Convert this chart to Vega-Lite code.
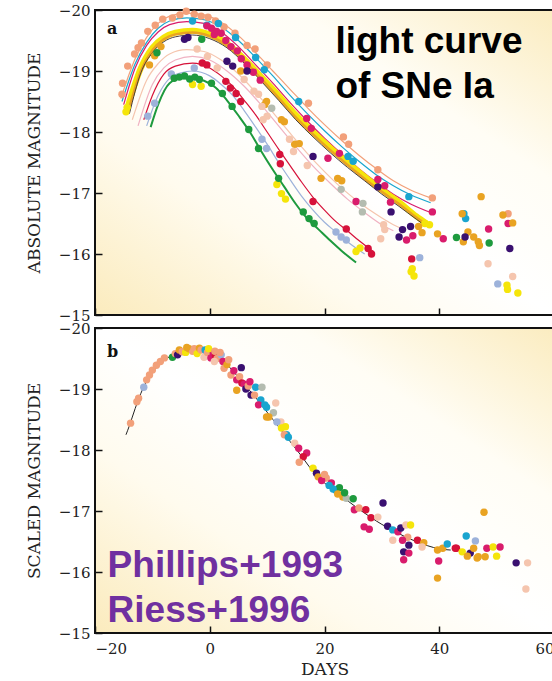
{
  "$schema": "https://vega.github.io/schema/vega-lite/v6.json",
  "padding": {"left": 24, "top": 2, "right": 0, "bottom": 0},
  "spacing": -4,
  "background": "white",
  "config": {
    "view": {
      "stroke": "#111111",
      "strokeWidth": 2,
      "fill": {
        "gradient": "linear",
        "x1": 0, "y1": 1, "x2": 1, "y2": 0,
        "stops": [
          {"offset": 0, "color": "#fbebbd"},
          {"offset": 0.3, "color": "#fffbee"},
          {"offset": 0.5, "color": "#ffffff"},
          {"offset": 0.72, "color": "#fffdf5"},
          {"offset": 1, "color": "#fbecc0"}
        ]
      }
    },
    "axis": {
      "labelFont": "DejaVu Serif",
      "labelFontSize": 15,
      "labelColor": "#222222",
      "titleFont": "DejaVu Serif",
      "titleFontSize": 17,
      "titleFontWeight": "normal",
      "titleColor": "#222222",
      "titlePadding": 15,
      "domain": false,
      "grid": false,
      "tickColor": "#111111",
      "tickWidth": 1.5,
      "tickSize": -7,
      "labelPadding": 12
    }
  },
  "datasets": {
    "topCurves": [
      {"sn":"A","d":-15.5,"m":-18.55},{"sn":"A","d":-13,"m":-19.2},{"sn":"A","d":-11,"m":-19.55},{"sn":"A","d":-9,"m":-19.78},{"sn":"A","d":-7,"m":-19.9},{"sn":"A","d":-4,"m":-19.95},{"sn":"A","d":-1,"m":-19.92},{"sn":"A","d":2,"m":-19.8},{"sn":"A","d":5,"m":-19.58},{"sn":"A","d":8,"m":-19.3},{"sn":"A","d":11,"m":-19.0},{"sn":"A","d":14,"m":-18.7},{"sn":"A","d":17,"m":-18.4},{"sn":"A","d":20,"m":-18.12},{"sn":"A","d":23,"m":-17.86},{"sn":"A","d":26,"m":-17.62},{"sn":"A","d":29,"m":-17.4},{"sn":"A","d":32,"m":-17.2},{"sn":"A","d":35,"m":-17.05},{"sn":"A","d":38.5,"m":-16.92},
      {"sn":"B","d":-15.3,"m":-18.5},{"sn":"B","d":-13,"m":-19.12},{"sn":"B","d":-11,"m":-19.47},{"sn":"B","d":-9,"m":-19.7},{"sn":"B","d":-7,"m":-19.82},{"sn":"B","d":-4,"m":-19.87},{"sn":"B","d":-1,"m":-19.84},{"sn":"B","d":2,"m":-19.72},{"sn":"B","d":5,"m":-19.5},{"sn":"B","d":8,"m":-19.22},{"sn":"B","d":11,"m":-18.92},{"sn":"B","d":14,"m":-18.6},{"sn":"B","d":17,"m":-18.3},{"sn":"B","d":20,"m":-18.02},{"sn":"B","d":23,"m":-17.76},{"sn":"B","d":26,"m":-17.52},{"sn":"B","d":29,"m":-17.3},{"sn":"B","d":32,"m":-17.12},{"sn":"B","d":35,"m":-16.97},{"sn":"B","d":38.5,"m":-16.84},
      {"sn":"C","d":-15,"m":-18.45},{"sn":"C","d":-13,"m":-19.05},{"sn":"C","d":-11,"m":-19.42},{"sn":"C","d":-9,"m":-19.64},{"sn":"C","d":-7,"m":-19.76},{"sn":"C","d":-4,"m":-19.81},{"sn":"C","d":-1,"m":-19.78},{"sn":"C","d":2,"m":-19.64},{"sn":"C","d":5,"m":-19.4},{"sn":"C","d":8,"m":-19.1},{"sn":"C","d":11,"m":-18.8},{"sn":"C","d":14,"m":-18.48},{"sn":"C","d":17,"m":-18.18},{"sn":"C","d":20,"m":-17.9},{"sn":"C","d":23,"m":-17.64},{"sn":"C","d":26,"m":-17.4},{"sn":"C","d":29,"m":-17.18},{"sn":"C","d":32,"m":-16.98},{"sn":"C","d":35,"m":-16.82},{"sn":"C","d":38.5,"m":-16.68},
      {"sn":"H","d":-13.5,"m":-18.2},{"sn":"H","d":-11,"m":-18.85},{"sn":"H","d":-9,"m":-19.12},{"sn":"H","d":-7,"m":-19.28},{"sn":"H","d":-4,"m":-19.35},{"sn":"H","d":-1,"m":-19.32},{"sn":"H","d":2,"m":-19.18},{"sn":"H","d":5,"m":-18.95},{"sn":"H","d":8,"m":-18.65},{"sn":"H","d":11,"m":-18.32},{"sn":"H","d":14,"m":-17.98},{"sn":"H","d":17,"m":-17.65},{"sn":"H","d":20,"m":-17.35},{"sn":"H","d":23,"m":-17.08},{"sn":"H","d":26,"m":-16.85},{"sn":"H","d":29,"m":-16.65},{"sn":"H","d":32,"m":-16.48},{"sn":"H","d":34,"m":-16.4},
      {"sn":"I","d":-12.5,"m":-18.1},{"sn":"I","d":-10,"m":-18.78},{"sn":"I","d":-8,"m":-19.05},{"sn":"I","d":-6,"m":-19.18},{"sn":"I","d":-3,"m":-19.24},{"sn":"I","d":0,"m":-19.18},{"sn":"I","d":3,"m":-19.0},{"sn":"I","d":6,"m":-18.75},{"sn":"I","d":9,"m":-18.44},{"sn":"I","d":12,"m":-18.1},{"sn":"I","d":15,"m":-17.76},{"sn":"I","d":18,"m":-17.44},{"sn":"I","d":21,"m":-17.16},{"sn":"I","d":24,"m":-16.9},{"sn":"I","d":27,"m":-16.68},{"sn":"I","d":30,"m":-16.48},{"sn":"I","d":32,"m":-16.38},
      {"sn":"J","d":-11.5,"m":-18.2},{"sn":"J","d":-10,"m":-18.6},{"sn":"J","d":-8,"m":-18.95},{"sn":"J","d":-6,"m":-19.08},{"sn":"J","d":-3,"m":-19.13},{"sn":"J","d":0,"m":-19.05},{"sn":"J","d":2,"m":-18.92},{"sn":"J","d":4,"m":-18.75},{"sn":"J","d":6,"m":-18.52},{"sn":"J","d":8,"m":-18.28},{"sn":"J","d":10,"m":-18.0},{"sn":"J","d":12,"m":-17.72},{"sn":"J","d":14,"m":-17.45},{"sn":"J","d":16,"m":-17.18},{"sn":"J","d":18,"m":-16.93},{"sn":"J","d":20,"m":-16.72},{"sn":"J","d":22,"m":-16.53},{"sn":"J","d":24,"m":-16.38},{"sn":"J","d":26,"m":-16.22},{"sn":"J","d":28.5,"m":-16.04},
      {"sn":"K","d":-11,"m":-18.1},{"sn":"K","d":-9,"m":-18.6},{"sn":"K","d":-7,"m":-18.88},{"sn":"K","d":-5,"m":-18.97},{"sn":"K","d":-3,"m":-19.0},{"sn":"K","d":0,"m":-18.92},{"sn":"K","d":2,"m":-18.78},{"sn":"K","d":4,"m":-18.6},{"sn":"K","d":6,"m":-18.35},{"sn":"K","d":8,"m":-18.08},{"sn":"K","d":10,"m":-17.8},{"sn":"K","d":12,"m":-17.5},{"sn":"K","d":14,"m":-17.22},{"sn":"K","d":16,"m":-16.95},{"sn":"K","d":18,"m":-16.72},{"sn":"K","d":20,"m":-16.52},{"sn":"K","d":22,"m":-16.36},{"sn":"K","d":24,"m":-16.2},{"sn":"K","d":27,"m":-16.0},
      {"sn":"L","d":-10.3,"m":-18.08},{"sn":"L","d":-9,"m":-18.45},{"sn":"L","d":-7,"m":-18.8},{"sn":"L","d":-5,"m":-18.88},{"sn":"L","d":-3,"m":-18.88},{"sn":"L","d":-1,"m":-18.84},{"sn":"L","d":1,"m":-18.73},{"sn":"L","d":3,"m":-18.52},{"sn":"L","d":5,"m":-18.27},{"sn":"L","d":7,"m":-18.0},{"sn":"L","d":9,"m":-17.68},{"sn":"L","d":11,"m":-17.38},{"sn":"L","d":13,"m":-17.1},{"sn":"L","d":15,"m":-16.82},{"sn":"L","d":17,"m":-16.58},{"sn":"L","d":19,"m":-16.4},{"sn":"L","d":21,"m":-16.22},{"sn":"L","d":23,"m":-16.05},{"sn":"L","d":25.5,"m":-15.86},
      {"sn":"D","d":-14.5,"m":-18.35},{"sn":"D","d":-12,"m":-19.05},{"sn":"D","d":-10,"m":-19.38},{"sn":"D","d":-8,"m":-19.55},{"sn":"D","d":-6,"m":-19.63},{"sn":"D","d":-3,"m":-19.66},{"sn":"D","d":0,"m":-19.6},{"sn":"D","d":3,"m":-19.45},{"sn":"D","d":6,"m":-19.2},{"sn":"D","d":9,"m":-18.9},{"sn":"D","d":12,"m":-18.6},{"sn":"D","d":15,"m":-18.28},{"sn":"D","d":18,"m":-18.0},{"sn":"D","d":21,"m":-17.74},{"sn":"D","d":24,"m":-17.5},{"sn":"D","d":27,"m":-17.27},{"sn":"D","d":30,"m":-17.05},{"sn":"D","d":33,"m":-16.85},{"sn":"D","d":36,"m":-16.62},{"sn":"D","d":37.8,"m":-16.5},
      {"sn":"E","d":-14.3,"m":-18.3},{"sn":"E","d":-12,"m":-19.0},{"sn":"E","d":-10,"m":-19.34},{"sn":"E","d":-8,"m":-19.52},{"sn":"E","d":-6,"m":-19.6},{"sn":"E","d":-3,"m":-19.63},{"sn":"E","d":0,"m":-19.57},{"sn":"E","d":3,"m":-19.42},{"sn":"E","d":6,"m":-19.17},{"sn":"E","d":9,"m":-18.87},{"sn":"E","d":12,"m":-18.56},{"sn":"E","d":15,"m":-18.24},{"sn":"E","d":18,"m":-17.96},{"sn":"E","d":21,"m":-17.7},{"sn":"E","d":24,"m":-17.46},{"sn":"E","d":27,"m":-17.23},{"sn":"E","d":30,"m":-17.02},{"sn":"E","d":33,"m":-16.82},{"sn":"E","d":36,"m":-16.6},{"sn":"E","d":37.5,"m":-16.5},
      {"sn":"N","d":-14,"m":-18.3},{"sn":"N","d":-12,"m":-18.97},{"sn":"N","d":-10,"m":-19.3},{"sn":"N","d":-8,"m":-19.48},{"sn":"N","d":-6,"m":-19.56},{"sn":"N","d":-3,"m":-19.59},{"sn":"N","d":0,"m":-19.53},{"sn":"N","d":3,"m":-19.38},{"sn":"N","d":6,"m":-19.13},{"sn":"N","d":9,"m":-18.83},{"sn":"N","d":12,"m":-18.52},{"sn":"N","d":15,"m":-18.2},{"sn":"N","d":18,"m":-17.92},{"sn":"N","d":21,"m":-17.66},{"sn":"N","d":24,"m":-17.42},{"sn":"N","d":27,"m":-17.2},{"sn":"N","d":30,"m":-16.98},{"sn":"N","d":33,"m":-16.78},{"sn":"N","d":36,"m":-16.57},{"sn":"N","d":37.5,"m":-16.47}
    ],
    "topPts": [
      {"sn":"A","d":-15.3,"m":-18.62},{"sn":"A","d":-15.2,"m":-18.8},{"sn":"A","d":-14.3,"m":-19.08},{"sn":"A","d":-13.1,"m":-19.28},{"sn":"A","d":-12.5,"m":-19.38},{"sn":"A","d":-11.9,"m":-19.46},{"sn":"A","d":-10.8,"m":-19.65},{"sn":"A","d":-9.5,"m":-19.75},{"sn":"A","d":-8.2,"m":-19.85},{"sn":"A","d":-6.5,"m":-19.87},{"sn":"A","d":-5.2,"m":-19.92},{"sn":"A","d":-4.1,"m":-19.98},{"sn":"A","d":-2.7,"m":-19.93},{"sn":"A","d":-1.5,"m":-19.9},{"sn":"A","d":-0.3,"m":-19.88},{"sn":"A","d":1,"m":-19.82},{"sn":"A","d":2.5,"m":-19.72},{"sn":"A","d":4.4,"m":-19.62},{"sn":"A","d":6.5,"m":-19.42},{"sn":"A","d":7.9,"m":-19.36},{"sn":"A","d":10,"m":-19.1},{"sn":"A","d":17.2,"m":-18.47},{"sn":"A","d":23.3,"m":-17.92},{"sn":"A","d":24.2,"m":-17.8},{"sn":"A","d":29.3,"m":-17.38},{"sn":"A","d":38.8,"m":-16.92},{"sn":"A","d":52,"m":-16.66},
      {"sn":"B","d":-3,"m":-19.82},{"sn":"B","d":-0.5,"m":-19.75},{"sn":"B","d":1.5,"m":-19.78},{"sn":"B","d":4.5,"m":-19.55},{"sn":"B","d":8,"m":-19.22},{"sn":"B","d":9.5,"m":-19.02},{"sn":"B","d":15.5,"m":-18.5},{"sn":"B","d":24.1,"m":-17.6},{"sn":"B","d":25,"m":-17.52},{"sn":"B","d":34.7,"m":-16.94},{"sn":"B","d":44.3,"m":-16.66},{"sn":"B","d":44.6,"m":-16.58},
      {"sn":"C","d":-0.5,"m":-19.74},{"sn":"C","d":0.3,"m":-19.7},{"sn":"C","d":1.2,"m":-19.65},{"sn":"C","d":2,"m":-19.62},{"sn":"C","d":0.8,"m":-19.6},{"sn":"C","d":2.8,"m":-19.5},{"sn":"C","d":3.7,"m":-19.4},{"sn":"C","d":4.8,"m":-19.33},{"sn":"C","d":5.5,"m":-19.2},{"sn":"C","d":6.5,"m":-19.1},{"sn":"C","d":7.6,"m":-18.98},{"sn":"C","d":8.8,"m":-18.85},{"sn":"C","d":16.9,"m":-18.22},{"sn":"C","d":17.7,"m":-18.06},{"sn":"C","d":20.6,"m":-17.57},{"sn":"C","d":22.6,"m":-17.65},{"sn":"C","d":25.5,"m":-16.86},{"sn":"C","d":29.3,"m":-17.22},{"sn":"C","d":30.5,"m":-17.12},{"sn":"C","d":31.5,"m":-16.85},{"sn":"C","d":38.8,"m":-16.69},{"sn":"C","d":34.3,"m":-16.23},{"sn":"C","d":35.4,"m":-16.3},{"sn":"C","d":40.7,"m":-16.25},{"sn":"C","d":48.6,"m":-16.41},{"sn":"C","d":52,"m":-16.5},
      {"sn":"D","d":-14.6,"m":-18.33},{"sn":"D","d":-14.4,"m":-18.4},{"sn":"D","d":-1.5,"m":-18.75},{"sn":"D","d":-3,"m":-18.78},{"sn":"D","d":11.7,"m":-17.14},{"sn":"D","d":12.5,"m":-16.99},{"sn":"D","d":13.2,"m":-16.9},{"sn":"D","d":25.5,"m":-16.04},{"sn":"D","d":26.2,"m":-16.1},{"sn":"D","d":35.1,"m":-15.71},{"sn":"D","d":35.6,"m":-15.64},{"sn":"D","d":35.3,"m":-15.76},{"sn":"D","d":51.8,"m":-15.49},{"sn":"D","d":51.9,"m":-15.42},{"sn":"D","d":53.7,"m":-15.36},{"sn":"D","d":37.5,"m":-16.5},{"sn":"D","d":38.3,"m":-16.48},
      {"sn":"E","d":-9.6,"m":-19.25},{"sn":"E","d":-10.5,"m":-19.1},{"sn":"E","d":-8.5,"m":-19.4},{"sn":"E","d":5.4,"m":-19.0},{"sn":"E","d":9.6,"m":-18.45},{"sn":"E","d":9.9,"m":-18.5},{"sn":"E","d":12.5,"m":-18.2},{"sn":"E","d":13,"m":-18.17},{"sn":"E","d":14.8,"m":-17.8},{"sn":"E","d":15.6,"m":-17.81},{"sn":"E","d":19.4,"m":-17.24},{"sn":"E","d":22.3,"m":-17.24},{"sn":"E","d":23,"m":-17.2},{"sn":"E","d":36.4,"m":-16.45},{"sn":"E","d":37,"m":-16.35},{"sn":"E","d":39.7,"m":-16.33},{"sn":"E","d":44,"m":-16.66},{"sn":"E","d":45,"m":-16.36},{"sn":"E","d":46,"m":-16.28},{"sn":"E","d":44.2,"m":-16.2},{"sn":"E","d":46.8,"m":-16.2},{"sn":"E","d":47.3,"m":-16.94},{"sn":"E","d":47,"m":-16.14},{"sn":"E","d":51.1,"m":-16.64},{"sn":"E","d":52.8,"m":-16.51},
      {"sn":"F","d":-4.4,"m":-19.52},{"sn":"F","d":-3.8,"m":-19.55},{"sn":"F","d":3,"m":-19.16},{"sn":"F","d":4,"m":-19.08},{"sn":"F","d":6.5,"m":-19.0},{"sn":"F","d":18,"m":-17.6},{"sn":"F","d":29.3,"m":-17.1},{"sn":"F","d":31.6,"m":-16.69},{"sn":"F","d":33.6,"m":-16.4},{"sn":"F","d":33,"m":-16.28},{"sn":"F","d":35,"m":-16.45},{"sn":"F","d":44.5,"m":-16.28},{"sn":"F","d":52.3,"m":-16.09},
      {"sn":"G","d":10.8,"m":-18.39},{"sn":"G","d":22.9,"m":-17.06},{"sn":"G","d":26.7,"m":-16.83},{"sn":"G","d":26.6,"m":-16.69},
      {"sn":"H","d":-2.2,"m":-19.36},{"sn":"H","d":-0.4,"m":-19.24},{"sn":"H","d":1.3,"m":-19.05},{"sn":"H","d":6,"m":-18.86},{"sn":"H","d":7.7,"m":-18.67},{"sn":"H","d":9.1,"m":-18.42},{"sn":"H","d":10,"m":-18.26},{"sn":"H","d":8.5,"m":-18.62},{"sn":"H","d":9.3,"m":-18.2},{"sn":"H","d":13.9,"m":-17.88},{"sn":"H","d":14.6,"m":-17.68},{"sn":"H","d":17,"m":-17.45},{"sn":"H","d":30.3,"m":-16.48},{"sn":"H","d":29.8,"m":-16.25},{"sn":"H","d":30.5,"m":-16.4},{"sn":"H","d":48.5,"m":-15.84},{"sn":"H","d":52.8,"m":-15.63},
      {"sn":"J","d":-1.3,"m":-19.13},{"sn":"J","d":-0.5,"m":-19.1},{"sn":"J","d":2.8,"m":-18.83},{"sn":"J","d":3.6,"m":-18.72},{"sn":"J","d":4.6,"m":-18.63},{"sn":"J","d":5.4,"m":-18.5},{"sn":"J","d":12.2,"m":-17.63},{"sn":"J","d":12.3,"m":-17.48},{"sn":"J","d":18,"m":-16.86},{"sn":"J","d":23.8,"m":-16.41},{"sn":"J","d":27.6,"m":-16.09},{"sn":"J","d":28.2,"m":-16.0},{"sn":"J","d":35.2,"m":-15.92},
      {"sn":"K","d":-2.7,"m":-19.05},{"sn":"K","d":-6.7,"m":-18.95},{"sn":"K","d":-9.6,"m":-18.47},{"sn":"K","d":-10.8,"m":-18.26},{"sn":"K","d":9.1,"m":-17.88},{"sn":"K","d":9.9,"m":-17.73},{"sn":"K","d":22,"m":-16.36},{"sn":"K","d":22.9,"m":-16.28},{"sn":"K","d":23.8,"m":-16.23},{"sn":"K","d":36.6,"m":-15.94},{"sn":"K","d":50.2,"m":-15.51},
      {"sn":"L","d":-6.2,"m":-18.88},{"sn":"L","d":-5.3,"m":-18.9},{"sn":"L","d":-4.4,"m":-18.92},{"sn":"L","d":-3.5,"m":-18.87},{"sn":"L","d":-2.6,"m":-18.9},{"sn":"L","d":-1.8,"m":-18.86},{"sn":"L","d":0.3,"m":-18.8},{"sn":"L","d":2.2,"m":-18.63},{"sn":"L","d":3.9,"m":-18.42},{"sn":"L","d":6.8,"m":-18.04},{"sn":"L","d":8.5,"m":-17.73},{"sn":"L","d":12,"m":-17.24},{"sn":"L","d":16.3,"m":-16.69},{"sn":"L","d":17.3,"m":-16.58},{"sn":"L","d":18.2,"m":-16.5},{"sn":"L","d":43,"m":-16.27},{"sn":"L","d":48.7,"m":-16.18},{"sn":"L","d":-9.2,"m":-19.3},{"sn":"L","d":-1.4,"m":-19.52}
    ],
    "botLine": [
      {"d":-14.6,"m":-18.25},{"d":-14,"m":-18.4},{"d":-13,"m":-18.68},{"d":-12,"m":-18.93},{"d":-11,"m":-19.13},{"d":-10,"m":-19.28},{"d":-9,"m":-19.38},{"d":-8,"m":-19.47},{"d":-7,"m":-19.53},{"d":-6,"m":-19.58},{"d":-5,"m":-19.61},{"d":-4,"m":-19.63},{"d":-3,"m":-19.64},{"d":-2,"m":-19.63},{"d":-1,"m":-19.61},{"d":0,"m":-19.58},{"d":1,"m":-19.54},{"d":2,"m":-19.48},{"d":3,"m":-19.4},{"d":4,"m":-19.3},{"d":5,"m":-19.19},{"d":6,"m":-19.08},{"d":7,"m":-18.97},{"d":8,"m":-18.86},{"d":9,"m":-18.74},{"d":10,"m":-18.62},{"d":11,"m":-18.5},{"d":12,"m":-18.38},{"d":13,"m":-18.26},{"d":14,"m":-18.14},{"d":15,"m":-18.02},{"d":16,"m":-17.9},{"d":17,"m":-17.77},{"d":18,"m":-17.65},{"d":19,"m":-17.55},{"d":20,"m":-17.46},{"d":22,"m":-17.3},{"d":24,"m":-17.17},{"d":26,"m":-17.03},{"d":28,"m":-16.9},{"d":30,"m":-16.78},{"d":32,"m":-16.68},{"d":34,"m":-16.58},{"d":36,"m":-16.5},{"d":38,"m":-16.43},{"d":40,"m":-16.38},{"d":42,"m":-16.36}
    ],
    "botPts": [
      {"sn":"A","d":-13.8,"m":-18.44},{"sn":"A","d":-12.7,"m":-18.79},{"sn":"A","d":-12.4,"m":-18.85},{"sn":"K","d":-11.5,"m":-19.03},{"sn":"A","d":-11.0,"m":-19.15},{"sn":"A","d":-10.5,"m":-19.23},{"sn":"A","d":-10.0,"m":-19.31},{"sn":"A","d":-9.3,"m":-19.39},{"sn":"A","d":-8.6,"m":-19.45},{"sn":"A","d":-7.9,"m":-19.51},{"sn":"L","d":-6.5,"m":-19.52},{"sn":"A","d":-6.0,"m":-19.58},{"sn":"F","d":-5.6,"m":-19.56},{"sn":"E","d":-5.3,"m":-19.64},{"sn":"A","d":-4.8,"m":-19.61},{"sn":"D","d":-4.2,"m":-19.6},{"sn":"E","d":-3.6,"m":-19.66},{"sn":"A","d":-3.0,"m":-19.62},{"sn":"A","d":-2.7,"m":-19.66},{"sn":"D","d":-2.2,"m":-19.58},{"sn":"E","d":-1.8,"m":-19.67},{"sn":"A","d":-1.5,"m":-19.64},{"sn":"H","d":-1.0,"m":-19.52},{"sn":"B","d":-0.8,"m":-19.64},{"sn":"A","d":-0.4,"m":-19.6},{"sn":"C","d":0.2,"m":-19.51},{"sn":"C","d":0.6,"m":-19.6},{"sn":"J","d":1.0,"m":-19.55},{"sn":"A","d":1.3,"m":-19.5},{"sn":"K","d":2.0,"m":-19.56},{"sn":"C","d":2.3,"m":-19.45},{"sn":"A","d":2.5,"m":-19.34},{"sn":"E","d":3.0,"m":-19.4},{"sn":"A","d":3.7,"m":-19.23},{"sn":"C","d":4.2,"m":-19.3},{"sn":"C","d":4.7,"m":-19.15},{"sn":"E","d":4.7,"m":-18.98},{"sn":"A","d":5.2,"m":-19.2},{"sn":"J","d":5.6,"m":-19.1},{"sn":"C","d":6.0,"m":-19.08},{"sn":"F","d":6.3,"m":-19.0},{"sn":"A","d":6.7,"m":-19.05},{"sn":"F","d":7.2,"m":-18.9},{"sn":"B","d":8.0,"m":-19.03},{"sn":"G","d":9.1,"m":-19.03},{"sn":"B","d":8.9,"m":-18.82},{"sn":"C","d":8.5,"m":-18.74},{"sn":"A","d":7.8,"m":-18.9},{"sn":"B","d":9.9,"m":-18.7},{"sn":"E","d":9.9,"m":-18.54},{"sn":"H","d":11.5,"m":-18.77},{"sn":"G","d":11.1,"m":-18.61},{"sn":"H","d":12.4,"m":-18.46},{"sn":"D","d":13.2,"m":-18.38},{"sn":"B","d":13.4,"m":-18.25},{"sn":"B","d":9.6,"m":-18.74},{"sn":"E","d":10.3,"m":-18.54},{"sn":"K","d":11.7,"m":-18.46},{"sn":"D","d":12.5,"m":-18.36},{"sn":"A","d":13.0,"m":-18.25},{"sn":"B","d":13.7,"m":-18.21},{"sn":"H","d":14.8,"m":-18.11},{"sn":"C","d":15.5,"m":-18.03},{"sn":"C","d":16.9,"m":-17.95},{"sn":"J","d":16.3,"m":-17.89},{"sn":"A","d":15.6,"m":-17.8},{"sn":"D","d":18.0,"m":-17.7},{"sn":"F","d":18.6,"m":-17.62},{"sn":"E","d":18.9,"m":-17.56},{"sn":"A","d":20.3,"m":-17.54},{"sn":"C","d":21.2,"m":-17.46},{"sn":"B","d":22.0,"m":-17.34},{"sn":"L","d":22.6,"m":-17.38},{"sn":"E","d":23.2,"m":-17.23},{"sn":"G","d":23.8,"m":-17.21},{"sn":"L","d":25.0,"m":-17.2},{"sn":"C","d":25.2,"m":-17.02},{"sn":"A","d":26.0,"m":-17.05},{"sn":"J","d":27.2,"m":-17.02},{"sn":"J","d":28.1,"m":-16.89},{"sn":"H","d":29.3,"m":-16.9},{"sn":"C","d":26.9,"m":-16.74},{"sn":"C","d":27.8,"m":-16.7},{"sn":"F","d":30.2,"m":-17.13},{"sn":"F","d":31.0,"m":-16.75},{"sn":"B","d":31.9,"m":-16.69},{"sn":"C","d":32.8,"m":-16.66},{"sn":"F","d":33.3,"m":-16.72},{"sn":"H","d":34.2,"m":-16.77},{"sn":"D","d":35.0,"m":-16.77},{"sn":"A","d":34.5,"m":-16.57},{"sn":"C","d":33.6,"m":-16.52},{"sn":"F","d":34.7,"m":-16.44},{"sn":"F","d":33.8,"m":-16.33},{"sn":"C","d":34.7,"m":-16.31},{"sn":"C","d":33.8,"m":-16.2},{"sn":"H","d":31.9,"m":-16.52},{"sn":"J","d":36.2,"m":-16.52},{"sn":"E","d":37.3,"m":-16.48},{"sn":"H","d":37.0,"m":-16.41},{"sn":"E","d":39.7,"m":-16.36},{"sn":"E","d":40.6,"m":-16.39},{"sn":"B","d":41.4,"m":-16.46},{"sn":"J","d":42.8,"m":-16.39},{"sn":"C","d":39.9,"m":-16.18},{"sn":"J","d":43.0,"m":-16.39},{"sn":"D","d":44.0,"m":-16.33},{"sn":"F","d":45.4,"m":-16.31},{"sn":"E","d":46.0,"m":-16.39},{"sn":"E","d":46.8,"m":-16.25},{"sn":"E","d":44.9,"m":-16.26},{"sn":"E","d":48.0,"m":-16.25},{"sn":"C","d":48.3,"m":-16.39},{"sn":"D","d":49.4,"m":-16.41},{"sn":"D","d":50.0,"m":-16.26},{"sn":"C","d":50.6,"m":-16.41},{"sn":"F","d":53.4,"m":-16.15},{"sn":"H","d":55.4,"m":-16.15},{"sn":"H","d":55.1,"m":-15.72},{"sn":"E","d":47.8,"m":-16.98},{"sn":"B","d":44.7,"m":-16.59},{"sn":"K","d":46.3,"m":-16.51},{"sn":"E","d":39.7,"m":-15.9},{"sn":"E","d":46.6,"m":-16.23},
      {"sn":"C","d":19.5,"m":-17.5},{"sn":"B","d":20.8,"m":-17.42},{"sn":"B","d":21.5,"m":-17.36},{"sn":"E","d":22.3,"m":-17.28},{"sn":"A","d":20.0,"m":-17.6},{"sn":"L","d":23.5,"m":-17.3},{"sn":"H","d":0.8,"m":-19.45},{"sn":"A","d":1.8,"m":-19.6},{"sn":"A","d":3.3,"m":-19.48},{"sn":"F","d":5.5,"m":-19.35},{"sn":"C","d":7.0,"m":-19.12},{"sn":"E","d":-4.0,"m":-19.68},{"sn":"D","d":-0.2,"m":-19.66},{"sn":"A","d":0.9,"m":-19.62}
    ]
  },
  "vconcat": [
    {
      "width": 459,
      "height": 305,
      "layer": [
        {
          "data": {"name": "topCurves"},
          "transform": [{"filter": {"field": "sn", "oneOf": ["A", "B", "C", "H", "I", "J", "K"]}}],
          "mark": {"type": "line", "interpolate": "monotone", "strokeWidth": 1.2},
          "encoding": {
            "x": {"field": "d", "type": "quantitative", "scale": {"domain": [-20, 60], "nice": false, "zero": false}, "axis": {"title": null, "labels": false, "values": [-20, 0, 20, 40, 60]}},
            "y": {"field": "m", "type": "quantitative", "scale": {"domain": [-20, -15], "reverse": true, "nice": false, "zero": false}, "axis": {"title": "ABSOLUTE MAGNITUDE", "values": [-20, -19, -18, -17, -16, -15], "format": "d"}},
            "color": {"field": "sn", "type": "nominal", "legend": null, "scale": {"domain": ["A","B","C","D","E","F","G","H","I","J","K","L","N"], "range": ["#F2A07A","#1AA5CF","#D91C6C","#F5E50A","#E9A322","#3A1070","#B4BCB0","#F5C5AE","#F0B2C2","#D6123A","#9DB2DA","#1E9A3E","#4A3C3C"]}},
            "detail": {"field": "sn"}
          }
        },
        {
          "data": {"name": "topCurves"},
          "transform": [{"filter": {"field": "sn", "equal": "L"}}],
          "mark": {"type": "line", "interpolate": "monotone", "strokeWidth": 2, "color": "#1E9A3E"},
          "encoding": {"x": {"field": "d", "type": "quantitative"}, "y": {"field": "m", "type": "quantitative"}}
        },
        {
          "data": {"name": "topCurves"},
          "transform": [{"filter": {"field": "sn", "equal": "D"}}],
          "mark": {"type": "line", "interpolate": "monotone", "strokeWidth": 6, "color": "#F5E50A"},
          "encoding": {"x": {"field": "d", "type": "quantitative"}, "y": {"field": "m", "type": "quantitative"}}
        },
        {
          "data": {"name": "topCurves"},
          "transform": [{"filter": {"field": "sn", "equal": "E"}}],
          "mark": {"type": "line", "interpolate": "monotone", "strokeWidth": 2.5, "color": "#E9A322"},
          "encoding": {"x": {"field": "d", "type": "quantitative"}, "y": {"field": "m", "type": "quantitative"}}
        },
        {
          "data": {"name": "topCurves"},
          "transform": [{"filter": {"field": "sn", "equal": "N"}}],
          "mark": {"type": "line", "interpolate": "monotone", "strokeWidth": 1, "color": "#4A3C3C"},
          "encoding": {"x": {"field": "d", "type": "quantitative"}, "y": {"field": "m", "type": "quantitative"}}
        },
        {
          "data": {"name": "topPts"},
          "mark": {"type": "circle", "size": 55, "opacity": 1},
          "encoding": {
            "x": {"field": "d", "type": "quantitative"},
            "y": {"field": "m", "type": "quantitative"},
            "color": {"field": "sn", "type": "nominal", "legend": null}
          }
        },
        {
          "data": {"values": [{}]},
          "mark": {"type": "text", "text": ["light curve", "of SNe Ia"], "align": "left", "baseline": "alphabetic", "font": "Liberation Sans", "fontSize": 37, "fontWeight": "bold", "lineHeight": 45, "color": "#000000"},
          "encoding": {"x": {"datum": 21.9}, "y": {"datum": -19.3}}
        },
        {
          "data": {"values": [{}]},
          "mark": {"type": "text", "text": "a", "align": "left", "baseline": "alphabetic", "font": "DejaVu Serif", "fontSize": 16, "fontWeight": "bold", "color": "#111111"},
          "encoding": {"x": {"datum": -17.9}, "y": {"datum": -19.61}}
        }
      ]
    },
    {
      "width": 459,
      "height": 305,
      "layer": [
        {
          "data": {"name": "botLine"},
          "mark": {"type": "line", "interpolate": "monotone", "strokeWidth": 1, "color": "#222222"},
          "encoding": {
            "x": {"field": "d", "type": "quantitative", "scale": {"domain": [-20, 60], "nice": false, "zero": false}, "axis": {"title": "DAYS", "values": [-20, 0, 20, 40, 60], "format": "d", "labelPadding": 15, "titlePadding": 5}},
            "y": {"field": "m", "type": "quantitative", "scale": {"domain": [-20, -15], "reverse": true, "nice": false, "zero": false}, "axis": {"title": "SCALED MAGNITUDE", "values": [-20, -19, -18, -17, -16, -15], "format": "d"}}
          }
        },
        {
          "data": {"name": "botPts"},
          "mark": {"type": "circle", "size": 55, "opacity": 1},
          "encoding": {
            "x": {"field": "d", "type": "quantitative"},
            "y": {"field": "m", "type": "quantitative"},
            "color": {"field": "sn", "type": "nominal", "legend": null, "scale": {"domain": ["A","B","C","D","E","F","G","H","I","J","K","L","N"], "range": ["#F2A07A","#1AA5CF","#D91C6C","#F5E50A","#E9A322","#3A1070","#B4BCB0","#F5C5AE","#F0B2C2","#D6123A","#9DB2DA","#1E9A3E","#4A3C3C"]}}
          }
        },
        {
          "data": {"values": [{}]},
          "mark": {"type": "text", "text": ["Phillips+1993", "Riess+1996"], "align": "left", "baseline": "alphabetic", "font": "Liberation Sans", "fontSize": 37, "fontWeight": "bold", "lineHeight": 45, "color": "#7030A0"},
          "encoding": {"x": {"datum": -17.8}, "y": {"datum": -15.92}}
        },
        {
          "data": {"values": [{}]},
          "mark": {"type": "text", "text": "b", "align": "left", "baseline": "alphabetic", "font": "DejaVu Serif", "fontSize": 16, "fontWeight": "bold", "color": "#111111"},
          "encoding": {"x": {"datum": -17.9}, "y": {"datum": -19.52}}
        }
      ]
    }
  ]
}
